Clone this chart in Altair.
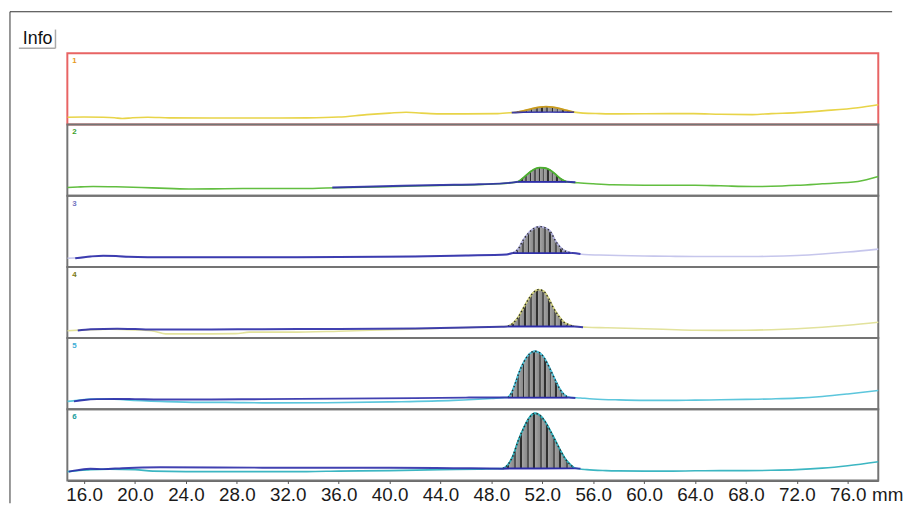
import altair as alt
import pandas as pd

W, H = 820, 432
LANE_H = 72
X_MIN, X_MAX = 14.68, 78.4
TICKS = [16, 20, 24, 28, 32, 36, 40, 44, 48, 52, 56, 60, 64, 68, 72, 76]
LANES = [1, 2, 3, 4, 5, 6]

SIG_COLORS = ["#e8d448", "#62be40", "#c6c6ec", "#e2e29c", "#5cc6dc", "#3cb6c2"]
LABEL_COLORS = ["#e89a20", "#3a9e2a", "#7474c0", "#7a7a14", "#3eaed6", "#189c9c"]
PEAK_LINE_COLORS = ["#c89a20", "#4cae30", "#b0b0dc", "#d0d080", "#4cc0d8", "#30b0bc"]
BLUE = "#2c2ca8"

# ---- lane 1 ----
l1_left_mm = [14.7, 16.0, 17.5, 18.4, 19.0, 19.8, 21.0, 22.7, 26, 30, 33.5, 36, 38.2, 40, 41.3, 42.5, 43.9, 46, 48.5, 49.6]
l1_left_h = [7.3, 7.5, 7.3, 6.8, 6.0, 6.8, 7.3, 6.7, 6.5, 6.5, 6.7, 7.5, 10, 11.5, 12.3, 11.5, 10.7, 10.7, 11, 12]
l1_peak_mm = [50.0, 50.6, 51.2, 51.8, 52.3, 52.8, 53.4, 54.0, 54.5]
l1_peak_h = [12.5, 14, 16, 17.5, 18, 17.5, 16, 14, 12.5]
l1_right_mm = [55.2, 56.5, 58, 60, 62, 63.9, 66, 68.5, 70, 72, 74.2, 76.8, 78.4]
l1_right_h = [11.5, 11, 10.7, 10.8, 11, 11, 10.3, 10, 11, 12, 14, 17, 20]
l1_blue_mm = [49.6, 50.5, 51.5, 52.5, 53.5, 54.4]
l1_blue_h = [12, 12.5, 13, 13.5, 13, 12.5]

# ---- lane 2 ----
l2_left_mm = [14.7, 15.5, 16.7, 18.5, 20.5, 22.5, 24.5, 27, 30, 33, 35, 37, 39, 42.6, 45, 46.8, 48.5, 49.5]
l2_left_h = [8.3, 8.8, 9.3, 9, 8.3, 7.4, 6.7, 7.0, 7.3, 7.2, 7.7, 8.3, 8.8, 10, 10.5, 11, 12, 13]
l2_peak_mm = [50.1, 50.6, 51.1, 51.5, 51.8, 52.2, 52.6, 53.0, 53.4, 53.9]
l2_peak_h = [14, 19, 24.5, 27.5, 28.3, 28, 26, 22, 17.5, 14]
l2_right_mm = [54.8, 56, 57.5, 60, 62, 64, 66, 68.5, 70, 72, 74, 76.8, 78.4]
l2_right_h = [13, 12, 11, 10.5, 10.5, 10.5, 10, 9.3, 9.5, 10.5, 12, 14.3, 19.3]
l2_blue_mm = [35.5, 38, 41, 44, 47, 49.5, 50.1, 53.9, 54.6]
l2_blue_h = [8.3, 9, 10, 10.8, 11.5, 13, 14, 14, 13.5]

# ---- lane 3 ----
l3_left_mm = [14.7, 15.5, 16.5, 17.5, 18.5, 19.5, 21, 24, 28, 32, 36, 40, 44, 47, 49.2]
l3_left_h = [8.7, 9.2, 10.5, 11.3, 11, 10.2, 9.8, 9.7, 9.7, 9.8, 10, 10.3, 11, 11.8, 12.5]
l3_peak_mm = [49.7, 50.1, 50.5, 50.9, 51.3, 51.8, 52.3, 52.7, 53.0, 53.4, 53.8, 54.4]
l3_peak_h = [14, 18, 27, 34, 38.5, 40.7, 39, 34.5, 27, 20, 16, 14]
l3_right_mm = [55.3, 56.5, 58, 60, 62, 64, 66, 68, 70, 72, 74, 76, 78.4]
l3_right_h = [12.5, 12, 11.5, 11, 10.7, 10.5, 10.5, 10.5, 10.7, 11.5, 13, 15, 18]
l3_blue_mm = [15.3, 16.5, 17.5, 18.5, 19.5, 21, 24, 30, 36, 42, 46, 49.2, 49.7, 54.4, 55.0]
l3_blue_h = [8.7, 10.5, 11.3, 11, 10.2, 9.8, 9.7, 9.8, 10, 10.6, 11.5, 12.5, 14, 14, 13]

# ---- lane 4 ----
l4_left_mm = [14.7, 16, 18, 20, 21.5, 22.4, 24, 26, 27.9, 29, 32.2, 36, 40, 44, 47, 48.8]
l4_left_h = [7.5, 8.3, 9, 8.3, 7, 4.3, 4.3, 4.3, 4.5, 6, 6, 7, 8.5, 10, 11, 11.7]
l4_peak_mm = [49.3, 49.7, 50.1, 50.5, 50.9, 51.3, 51.7, 52.1, 52.5, 52.9, 53.3, 53.7, 54.1, 54.5]
l4_peak_h = [12, 15, 21, 30, 39, 46, 49, 47.5, 40, 30, 22, 16, 13.5, 12]
l4_right_mm = [55.5, 57, 60, 62, 64, 66, 68, 70, 72, 74, 76, 78.4]
l4_right_h = [11, 10.5, 9.5, 8.7, 8, 7.8, 8, 8.5, 9.5, 11, 13, 16]
l4_blue_mm = [15.5, 16.5, 18.6, 20, 21.1, 22, 26, 30, 36, 42, 46, 48.8, 49.3, 54.5, 55.2]
l4_blue_h = [7.7, 9, 9.5, 9.2, 8.8, 8.7, 8.8, 9, 9.3, 9.8, 10.7, 11.5, 11.7, 11.7, 11]

# ---- lane 5 ----
l5_left_mm = [14.7, 15.5, 16.5, 18, 19.3, 22, 25, 27.1, 30, 35, 40, 45, 48, 48.9]
l5_left_h = [8, 9, 10.3, 10.5, 9.5, 8, 7, 7, 6.5, 6.7, 7.5, 9, 11, 11.8]
l5_peak_mm = [49.3, 49.6, 49.9, 50.2, 50.6, 51.0, 51.4, 51.8, 52.2, 52.6, 53.0, 53.4, 53.7, 54.0]
l5_peak_h = [12, 17, 27, 38, 49, 56, 58.7, 57, 51, 41, 30, 20, 15, 12.5]
l5_right_mm = [55, 56, 58, 60, 62, 64, 66, 68, 70, 72, 74, 76, 78.4]
l5_right_h = [11.5, 10.5, 9.5, 9, 9, 9.3, 9.6, 10, 10.5, 11.3, 13, 15.5, 19]
l5_blue_mm = [15.2, 16, 17, 18.5, 20, 22, 26, 30, 36, 42, 46, 48.9, 49.3, 54.0, 54.6]
l5_blue_h = [8, 9.5, 10.3, 10.5, 10.3, 10, 10, 10.3, 10.8, 11.3, 11.8, 12, 12, 12, 11.5]

# ---- lane 6 ----
l6_left_mm = [14.7, 15.5, 16.5, 18, 20, 21.4, 24, 28, 33.5, 36, 40, 44, 47, 48.5]
l6_left_h = [9, 10, 11, 11.5, 11, 9.5, 9, 9, 9, 9.5, 10, 11, 11.5, 12]
l6_peak_mm = [48.9, 49.3, 49.7, 50.1, 50.5, 50.9, 51.4, 51.8, 52.2, 52.6, 53.0, 53.4, 53.8, 54.2, 54.5]
l6_peak_h = [12, 16, 25, 40, 52, 62, 68, 66, 60, 51, 41, 31, 22, 16, 13]
l6_right_mm = [55.5, 57, 58, 60, 62, 64, 66, 68, 70, 72, 74, 76, 78.4]
l6_right_h = [11, 10, 9.7, 9.5, 9.5, 9.8, 10, 10, 10.3, 11, 12.5, 15, 19]
l6_blue_mm = [14.8, 15.5, 16.5, 17.5, 19, 20, 22, 30, 40, 45, 48.9, 54.5, 55.0]
l6_blue_h = [9, 10.5, 12, 11.5, 12.5, 13, 13.5, 13, 13, 12.5, 12, 12.5, 12]

PEAK_BASE = [12.5, 14, 14, 12, 12, 12.5]

lanes_src = [
    (l1_left_mm, l1_left_h, l1_peak_mm, l1_peak_h, l1_right_mm, l1_right_h, l1_blue_mm, l1_blue_h),
    (l2_left_mm, l2_left_h, l2_peak_mm, l2_peak_h, l2_right_mm, l2_right_h, l2_blue_mm, l2_blue_h),
    (l3_left_mm, l3_left_h, l3_peak_mm, l3_peak_h, l3_right_mm, l3_right_h, l3_blue_mm, l3_blue_h),
    (l4_left_mm, l4_left_h, l4_peak_mm, l4_peak_h, l4_right_mm, l4_right_h, l4_blue_mm, l4_blue_h),
    (l5_left_mm, l5_left_h, l5_peak_mm, l5_peak_h, l5_right_mm, l5_right_h, l5_blue_mm, l5_blue_h),
    (l6_left_mm, l6_left_h, l6_peak_mm, l6_peak_h, l6_right_mm, l6_right_h, l6_blue_mm, l6_blue_h),
]

sig_rows, peak_rows, blue_rows, lane_rows = [], [], [], []
for i, lane in enumerate(LANES):
    lm, lh, pm, ph, rm, rh, bm, bh = lanes_src[i]
    off = LANE_H * (6 - lane)
    for m, h in zip(lm + pm + rm, lh + ph + rh):
        sig_rows.append({"lane": lane, "mm": m, "y": h + off, "c": SIG_COLORS[i]})
    for m, h in zip(pm, ph):
        peak_rows.append({"lane": lane, "mm": m, "y": h + off, "yb": PEAK_BASE[i] + off,
                          "c": PEAK_LINE_COLORS[i]})
    for m, h in zip(bm, bh):
        blue_rows.append({"lane": lane, "mm": m, "y": h + off})
    lane_rows.append({"lane": lane, "y0": off, "y1": off + LANE_H, "label": str(lane),
                      "lc": LABEL_COLORS[i], "bc": "#e86464" if lane == 1 else "#747474"})

sig = pd.DataFrame(sig_rows)
peak = pd.DataFrame(peak_rows)
blue = pd.DataFrame(blue_rows)
lanes_df = pd.DataFrame(lane_rows)

X = alt.X("mm:Q", scale=alt.Scale(domain=[X_MIN, X_MAX], nice=False, zero=False),
          axis=alt.Axis(values=TICKS, format=".1f", title="mm", grid=False,
                        labelFont="Liberation Sans", labelFontSize=19, labelColor="#1a1a1a",
                        labelPadding=2, labelOverlap=False, labelFlush=False,
                        tickSize=3, tickColor="#555", domainColor="#333", domainWidth=1.5,
                        titleFont="Liberation Sans", titleFontSize=19, titleFontWeight="normal",
                        titleColor="#1a1a1a", titleAngle=0, titleAlign="center",
                        titleBaseline="top", titleX=829, titleY=5))
YS = alt.Scale(domain=[0, H], nice=False, zero=False)

def Y(f):
    return alt.Y(f, scale=YS, axis=None)

borders = alt.Chart(lanes_df).mark_rect(fillOpacity=0, strokeWidth=2).encode(
    x=alt.value(0), x2=alt.value(W), y=Y("y0:Q"), y2="y1:Q",
    stroke=alt.Stroke("bc:N", scale=None))

sig_line = alt.Chart(sig).mark_line(strokeWidth=1.6, interpolate="monotone").encode(
    x=X, y=Y("y:Q"), color=alt.Color("c:N", scale=None), detail="lane:N")

blue_line = alt.Chart(blue).mark_line(strokeWidth=2, color=BLUE, interpolate="monotone",
                                      opacity=0.9).encode(
    x=X, y=Y("y:Q"), detail="lane:N")

stops = []
N = 11
for k in range(N):
    a, b, c = k / N, (k + 0.68) / N, (k + 1) / N
    dark = "#303030" if k % 2 == 0 else "#555555"
    stops += [alt.GradientStop(offset=a, color="#a2a2a2"),
              alt.GradientStop(offset=b, color="#8c8c8c"),
              alt.GradientStop(offset=b, color=dark),
              alt.GradientStop(offset=c, color=dark)]
hatch = alt.Gradient(gradient="linear", stops=stops, x1=0, x2=1, y1=0, y2=0)

peak_area = alt.Chart(peak).mark_area(fill=hatch, interpolate="monotone").encode(
    x=X, y=Y("y:Q"), y2="yb:Q", detail="lane:N")

peak_line = alt.Chart(peak).mark_line(strokeWidth=1.8, interpolate="monotone").encode(
    x=X, y=Y("y:Q"), color=alt.Color("c:N", scale=None), detail="lane:N")

peak_dots = alt.Chart(peak[peak["lane"] >= 3]).mark_line(
    strokeWidth=1.4, color="#2a2a2a", strokeDash=[1.5, 2.5], interpolate="monotone").encode(
    x=X, y=Y("y:Q"), detail="lane:N")

peak_base = alt.Chart(peak).mark_line(strokeWidth=1.5, color=BLUE).encode(
    x=X, y=Y("yb:Q"), detail="lane:N")

labels = alt.Chart(lanes_df).mark_text(align="left", baseline="top", fontSize=8,
                                       fontWeight="bold", dx=5, dy=4,
                                       font="Liberation Sans").encode(
    x=alt.value(0), y=Y("y1:Q"), text="label:N", color=alt.Color("lc:N", scale=None))

one = pd.DataFrame({"k": [0]})
frame_left = alt.Chart(one).mark_rule(color="#333", strokeWidth=1).encode(
    x=alt.value(-58), y=alt.value(-42), y2=alt.value(455))
frame_top = alt.Chart(one).mark_rule(color="#333", strokeWidth=1).encode(
    y=alt.value(-42), x=alt.value(-58), x2=alt.value(834))
info_text = alt.Chart(one).mark_text(text="Info", fontSize=18, font="Liberation Sans",
                                     color="#111", align="center", baseline="middle").encode(
    x=alt.value(-30), y=alt.value(-14))
btn_r = alt.Chart(one).mark_rule(color="#aaaaaa", strokeWidth=1.5).encode(
    x=alt.value(-12), y=alt.value(-24), y2=alt.value(-5))
btn_b = alt.Chart(one).mark_rule(color="#aaaaaa", strokeWidth=1.5).encode(
    y=alt.value(-5), x=alt.value(-49), x2=alt.value(-12))

chart = alt.layer(
    borders, sig_line, blue_line, peak_area, peak_line, peak_dots, peak_base, labels,
    frame_left, frame_top, info_text, btn_r, btn_b
).properties(
    width=W, height=H,
    padding={"left": 1, "top": 0, "right": 0, "bottom": 0},
    background="white"
).configure_view(stroke=None)

chart.save("out.html", embed_options={"renderer": "svg", "actions": False})
